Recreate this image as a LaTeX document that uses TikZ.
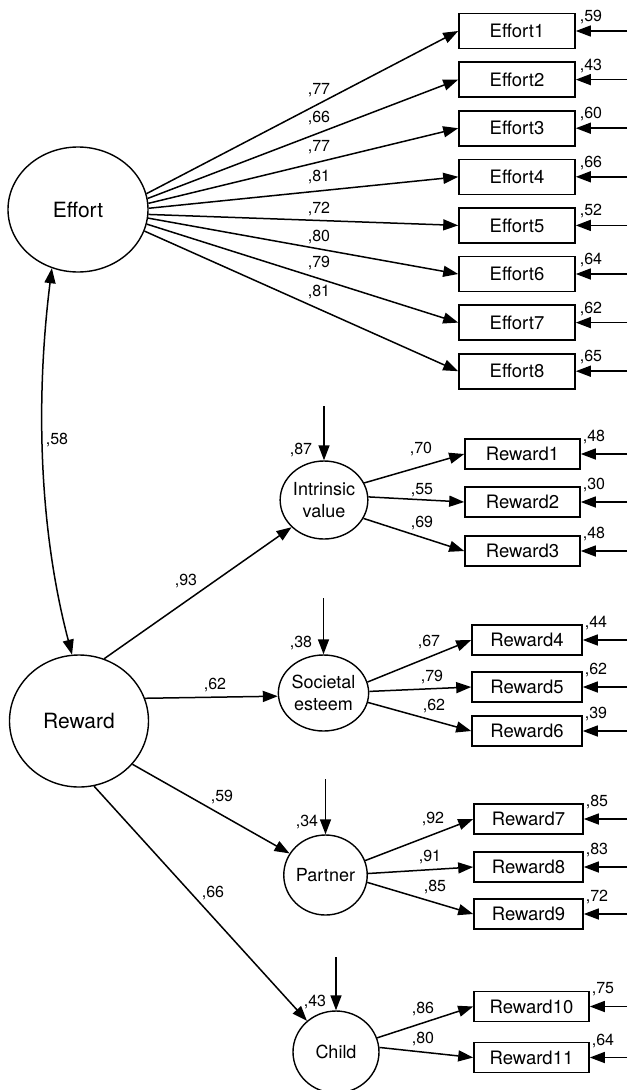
\documentclass[tikz,border=0pt]{standalone}
\usepackage{fontspec}
\setmainfont{TeX Gyre Heros}
\usetikzlibrary{arrows.meta,shapes.geometric}
\begin{document}
\begin{tikzpicture}[x=1pt,y=-1pt,
  lat/.style={draw, ellipse, line width=1.4pt, inner sep=0pt},
  big/.style={lat, minimum width=140pt, minimum height=125pt, font=\fontsize{21}{24}\selectfont},
  small/.style={lat, minimum width=84pt, minimum height=78pt, font=\fontsize{18}{22}\selectfont, align=center},
  obs/.style={draw, rectangle, line width=1.6pt, inner sep=0pt, minimum height=30pt, font=\fontsize{18.5}{20}\selectfont},
  lab/.style={font=\fontsize{16}{18}\selectfont, inner sep=0pt},
  arr/.style={line width=1.5pt, -{Triangle[length=15pt,width=11pt]}},
  darr/.style={line width=1.5pt, {Triangle[length=15pt,width=11pt]}-{Triangle[length=15pt,width=11pt]}},
]
\useasboundingbox (0,0) rectangle (630,1090);

% latent variables
\node[big] (Effort) at (78,209.5) {Effort};
\node[big, minimum width=139pt, minimum height=132pt] (Reward) at (79,721) {Reward};
\node[small] (Intr) at (324,500) {Intrinsic\\value};
\node[small, minimum width=85pt, minimum height=76pt] (Soc) at (323.5,693) {Societal\\esteem};
\node[small, minimum width=83pt, minimum height=80pt] (Part) at (325.5,875) {Partner};
\node[small, minimum width=86pt, minimum height=82pt] (Child) at (336,1052) {Child};

% Effort indicators
\foreach \i/\y/\a/\lv/\ly/\rv in {1/31/13.7/77/90/59, 2/79.6/9.5/66/118/43, 3/128.2/5.3/77/147/60,
    4/176.8/1.2/81/177/66, 5/225.4/356.3/72/209/52, 6/274/353/80/237/64,
    7/322.6/348.8/79/263/62, 8/371.2/342.8/81/292/65}{
  \node[obs, minimum width=116pt, minimum height=35pt] (E\i) at (517,\y) {Effort\i};
  \draw[arr] (Effort.\a) -- (E\i.west);
  \node[lab] (le\i) at (319,\ly) {,\lv};
  \coordinate (eE\i) at (627,\y);
  \draw[arr] (eE\i) -- (E\i.east);
  \node[lab] (re\i) at (591,\y-14) {,\rv};
}

% Reward indicators
\foreach \i/\x/\y/\bw/\rv/\lx in {1/522.5/454/115/48/594, 2/522.5/502/115/30/594, 3/522.5/551/115/48/594,
    4/527/640/110/44/596, 5/527/687/110/62/596, 6/527/731/110/39/596,
    7/528.5/819/109/85/597, 8/528.5/867/109/83/597, 9/528.5/914/109/72/597,
    10/531.5/1006.5/115/75/603, 11/531.5/1057.5/115/64/603}{
  \node[obs, minimum width=\bw pt] (R\i) at (\x,\y) {Reward\i};
  \coordinate (eR\i) at (627,\y);
  \draw[arr] (eR\i) -- (R\i.east);
  \node[lab] (rr\i) at (\lx,\y-17) {,\rv};
}

% first-order loadings
\foreach \s/\a/\t/\lv/\lx/\ly in {Intr/23.5/1/70/421/449, Intr/4/2/55/422/490, Intr/335/3/69/422/523,
    Soc/14.5/4/67/429/642, Soc/2.6/5/79/432/677, Soc/348/6/62/434/706,
    Part/20/7/92/433/819, Part/2.6/8/91/430/857, Part/350/9/85/435/887,
    Child/19/10/86/423/1009, Child/6.5/11/80/423/1039}{
  \draw[arr] (\s.\a) -- (R\t.west);
  \node[lab] (lr\t) at (\lx,\ly) {,\lv};
}

% second-order paths
\draw[arr] (Reward.68) -- (Intr.220.3);
\node[lab] (l93) at (186,581) {,93};
\draw[arr] (Reward.19) -- (Soc.184);
\node[lab] (l62) at (215,685) {,62};
\draw[arr] (Reward.321.5) -- (Part.149.6);
\node[lab] (l59) at (222,797) {,59};
\draw[arr] (Reward.283) -- (Child.133);
\node[lab] (l66) at (213,893) {,66};

% disturbances
\coordinate (dI) at (324,406);
\draw[arr] (dI) -- (Intr.north);
\node[lab] (l87) at (301,450) {,87};
\coordinate (dS) at (323.5,598);
\draw[arr] (dS) -- (Soc.north);
\node[lab] (l38) at (301,643) {,38};
\coordinate (dP) at (325.5,779);
\draw[arr] (dP) -- (Part.north);
\node[lab] (l34) at (307,822) {,34};
\coordinate (dC) at (336,957);
\draw[arr] (dC) -- (Child.north);
\node[lab] (l43) at (315,1002) {,43};

% correlation
\draw[darr] (Effort.246) .. controls (36,395) and (38,525) .. (Reward.96);
\node[lab] (l58) at (57,440) {,58};
\end{tikzpicture}
\end{document}
